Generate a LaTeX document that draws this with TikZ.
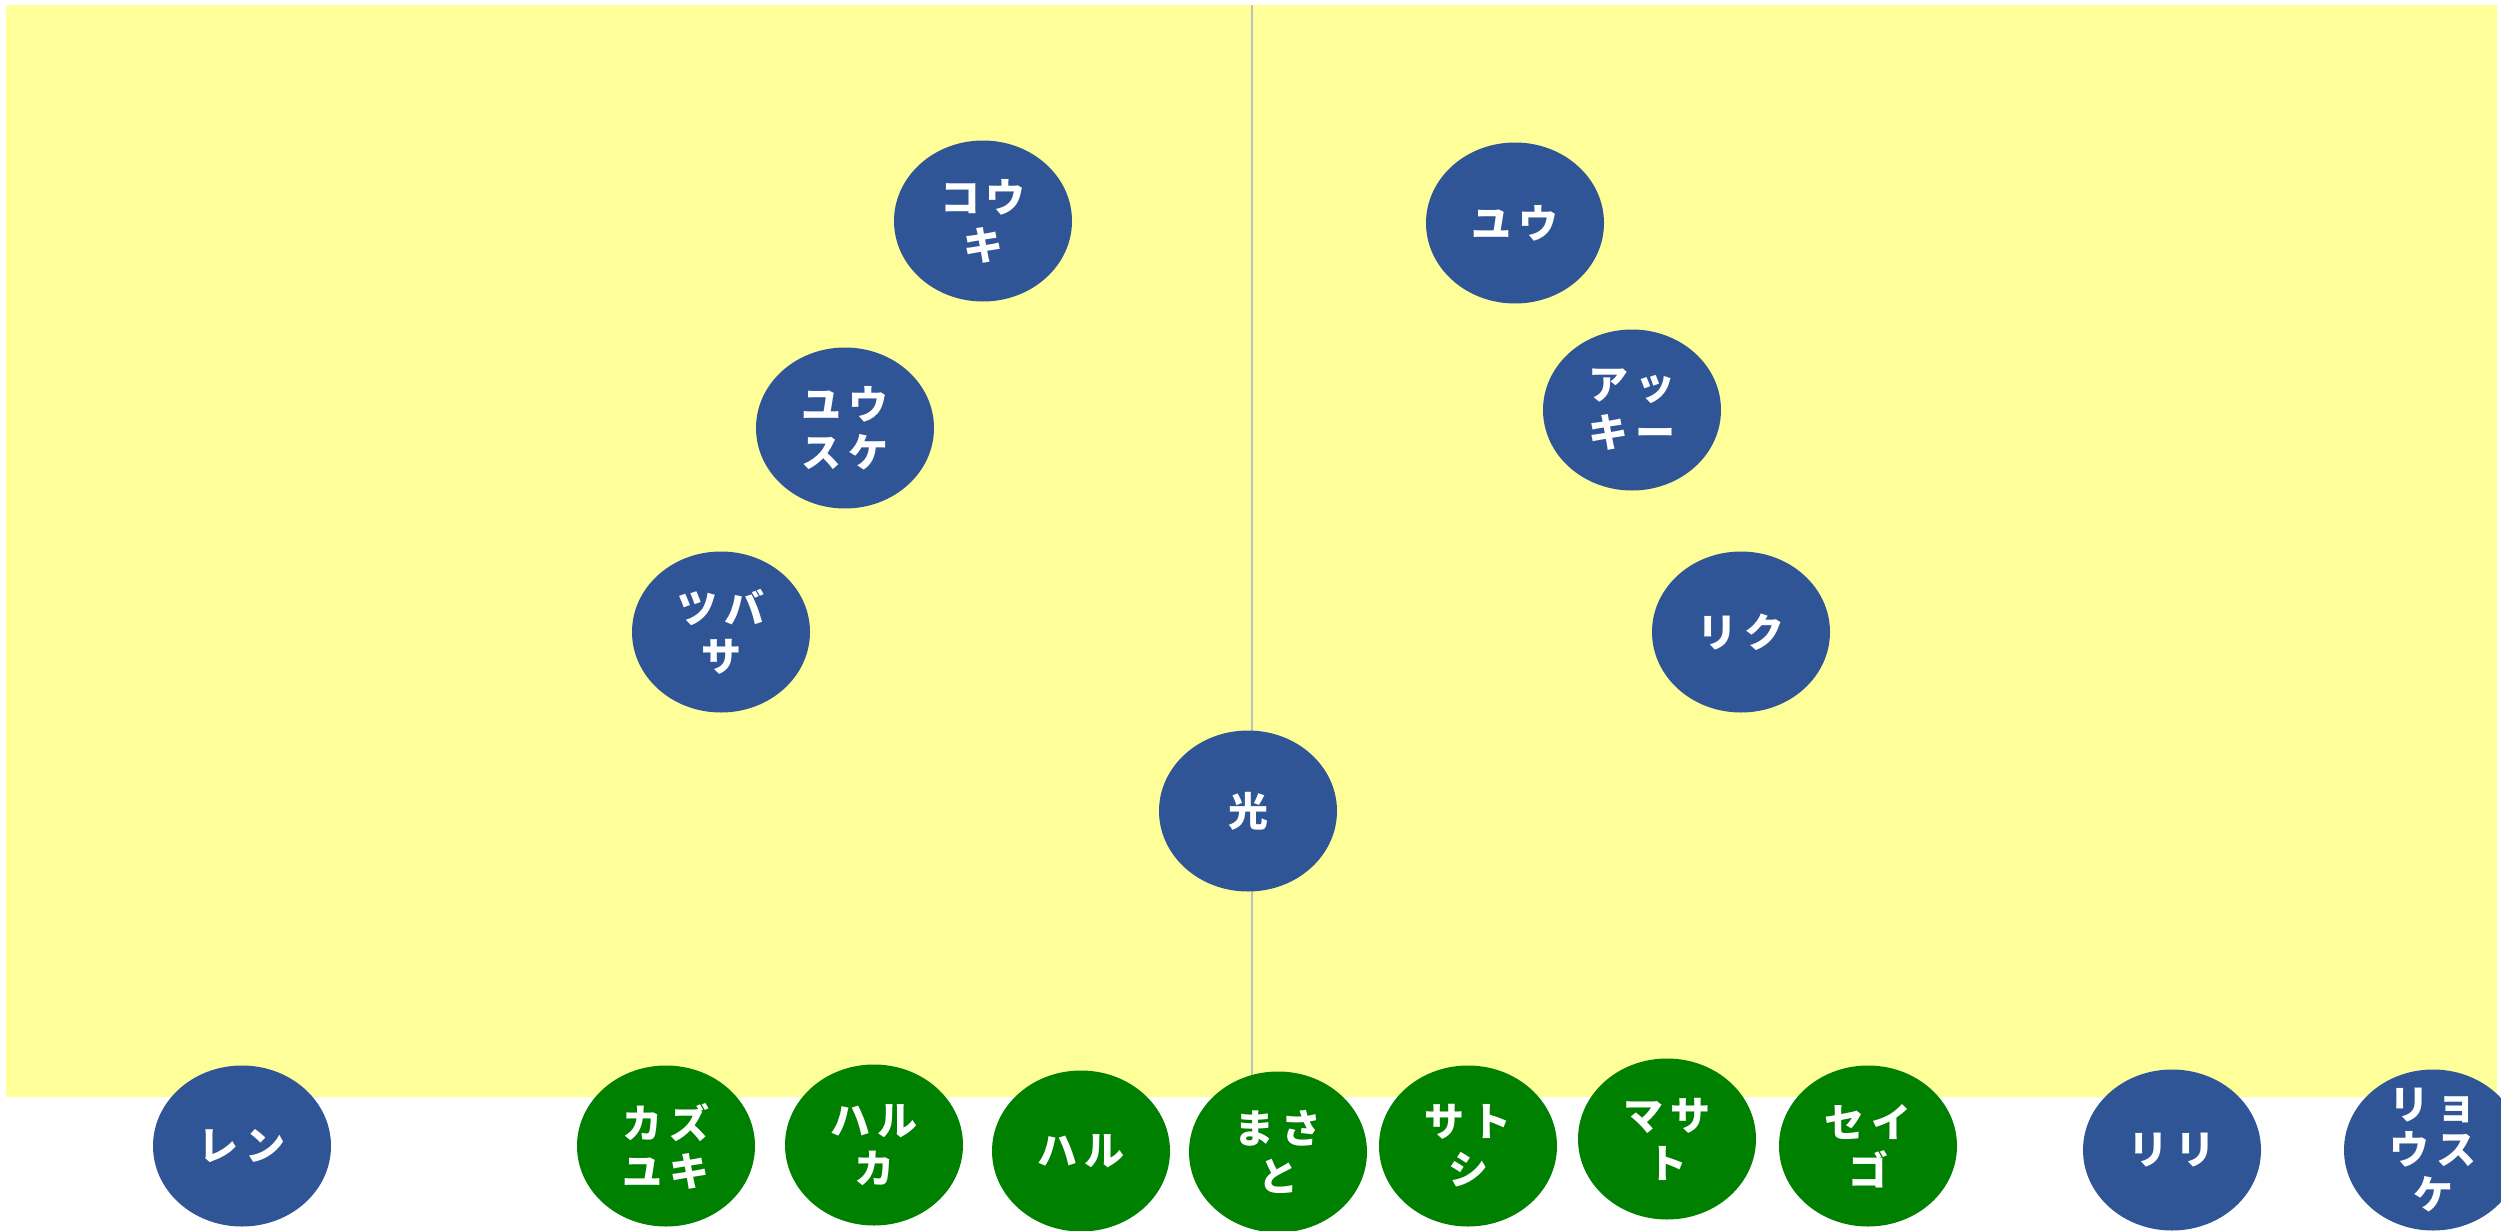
\documentclass[tikz,border=0pt]{standalone}
\usepackage{fontspec}
\setmainfont{Noto Sans CJK JP}
\newfontfamily\jp[LetterSpace=17]{Noto Sans CJK JP}
\newcommand\personfont{\jp\bfseries\fontsize{40}{48}\selectfont\lineskiplimit=-100pt\relax}
\newcommand\tightfont{\jp\bfseries\fontsize{40}{45}\selectfont\lineskiplimit=-100pt\relax}
\usetikzlibrary{shapes.geometric}
\definecolor{bgyellow}{HTML}{FFFF99}
\definecolor{nodeblue}{HTML}{2F5597}
\definecolor{nodegreen}{HTML}{008000}
\definecolor{divider}{HTML}{BFBFBF}
\tikzset{
  person/.style={ellipse, minimum width=178pt, minimum height=161pt, inner sep=0pt,
    text=white, align=center, font=\personfont},
  blue/.style={person, fill=nodeblue},
  green/.style={person, fill=nodegreen},
}
\begin{document}
\begin{tikzpicture}[x=1pt,y=-1pt]
\useasboundingbox (0,0) rectangle (2501,1231);
\clip (0,0) rectangle (2501,1231);
\fill[bgyellow] (6,5) rectangle (2497,1097);
\coordinate (ltop) at (1252,5);
\coordinate (lbot) at (1252,1097);
\draw[divider, line width=2pt] (ltop) -- (lbot);
% upper area
\node[blue] (kouki)   at (983,221)  {コウ\\キ};
\node[blue] (yuu)     at (1515,223) {ユウ};
\node[blue] (yuusuke) at (845,428)  {ユウ\\スケ};
\node[blue] (akkii)   at (1632,410) {アッ\\キー};
\node[blue] (tsubasa) at (721,632)  {ツバ\\サ};
\node[blue] (riku)    at (1741,632) {リク};
\node[blue] (hikari)  at (1248,811) {光};
% bottom row
\node[blue]  (ren)     at (242,1146)  {レン};
\node[green] (kazuyuki) at (666,1146) {カズ\\ユキ};
\node[green] (haruka)  at (874,1145)  {ハル\\カ};
\node[green] (haru)    at (1081,1151) {ハル};
\node[green] (masato)  at (1278,1152) {まさ\\と};
\node[green] (satoshi) at (1468,1146) {サト\\シ};
\node[green] (masato2) at (1667,1139) {マサ\\ト};
\node[green] (seigo)   at (1868,1146) {セイ\\ゴ};
\node[blue]  (riri)    at (2172,1150) {リリ};
\node[blue, inner sep=-25pt, font=\tightfont] (ryousuke) at (2433,1150) {リョ\\ウス\\ケ};
\end{tikzpicture}
\end{document}
